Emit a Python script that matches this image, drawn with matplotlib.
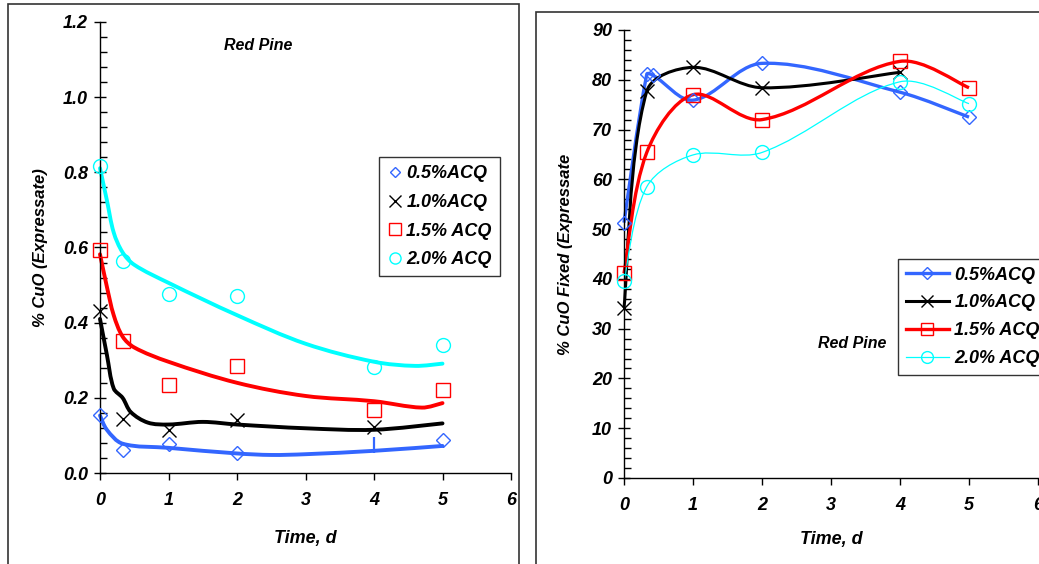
import numpy as np
import matplotlib
matplotlib.use("Agg")
import matplotlib.pyplot as plt
from matplotlib.path import Path
from matplotlib.patches import PathPatch, Rectangle
from matplotlib.lines import Line2D
from matplotlib.ticker import MultipleLocator, FormatStrFormatter

plt.rcParams['font.family'] = ['Liberation Sans', 'DejaVu Sans']
plt.rcParams['font.weight'] = 'bold'
plt.rcParams['font.style'] = 'italic'

# ---- data: left panel, % CuO in expressate ----
labels = ["0.5%ACQ", "1.0%ACQ", "1.5% ACQ", "2.0% ACQ"]
colors = ["#3366ff", "black", "red", "#00ffff"]

t_pts = [0, 0.33, 1, 2, 4, 5]
t_pts_10 = [0, 0.33, 1, 2, 4]
cuo_05 = [0.153, 0.062, 0.076, 0.052, 0.075, 0.088]
cuo_10 = [0.43, 0.143, 0.115, 0.141, 0.122]
cuo_15 = [0.594, 0.350, 0.234, 0.284, 0.167, 0.220]
cuo_20 = [0.818, 0.563, 0.477, 0.470, 0.282, 0.341]

# trend curves
fit_t_05 = [0, 0.1, 0.33, 1, 2, 2.5, 3, 4, 5]
fit_05 = [0.153, 0.115, 0.078, 0.067, 0.052, 0.048, 0.050, 0.059, 0.072]
fit_t_10 = [0, 0.1, 0.2, 0.33, 0.45, 0.7, 1, 1.5, 2, 3, 4, 5]
fit_10 = [0.41, 0.315, 0.225, 0.2, 0.162, 0.134, 0.129, 0.136, 0.129, 0.119, 0.115, 0.132]
fit_t_15 = [0, 0.1, 0.2, 0.33, 0.5, 1, 2, 3, 4, 4.7, 5]
fit_15 = [0.582, 0.496, 0.42, 0.363, 0.334, 0.296, 0.24, 0.205, 0.191, 0.174, 0.186]
fit_t_20 = [0, 0.1, 0.2, 0.33, 0.5, 1, 2, 3, 4, 4.6, 5]
fit_20 = [0.811, 0.726, 0.64, 0.587, 0.554, 0.506, 0.42, 0.344, 0.296, 0.285, 0.291]

# ---- data: right panel, % CuO fixed ----
t_05 = [0, 0.33, 0.42, 1, 2, 4, 5]
fix_05 = [51.3, 81.1, 80.9, 75.9, 83.3, 77.5, 72.5]
t_10 = [0, 0.33, 1, 2, 4]
fix_10 = [34.2, 77.7, 82.5, 78.4, 81.5]
t_15 = [0, 0.33, 1, 2, 4, 5]
fix_15 = [41.1, 65.4, 77.0, 72.0, 83.7, 78.4]
t_20 = [0, 0.33, 1, 2, 4, 5]
fix_20 = [39.5, 58.5, 64.9, 65.4, 79.6, 75.2]

FS = 13
W, H = 1039, 564


def smooth_path(xs, ys, sx, sy):
    # smoothed line through the points; control arms worked out in pixel space
    P = np.column_stack([np.asarray(xs, float) * sx, np.asarray(ys, float) * sy])
    n = len(P)
    arm_out = np.zeros_like(P)
    arm_in = np.zeros_like(P)
    for i in range(n):
        if i == 0:
            arm_out[i] = (P[1] - P[0]) / 6
        elif i == n - 1:
            arm_in[i] = (P[i] - P[i - 1]) / 6
        else:
            d0 = np.hypot(*(P[i] - P[i - 1]))
            d1 = np.hypot(*(P[i + 1] - P[i]))
            D = P[i + 1] - P[i - 1]
            arm_out[i] = D * d1 / (d0 + d1) / 3
            arm_in[i] = D * d0 / (d0 + d1) / 3
    verts = [P[0]]
    codes = [Path.MOVETO]
    for i in range(n - 1):
        verts += [P[i] + arm_out[i], P[i + 1] - arm_in[i + 1], P[i + 1]]
        codes += [Path.CURVE4] * 3
    verts = np.array(verts) / np.array([sx, sy])
    return Path(verts, codes)


def style_axes(ax):
    for s in ["top", "right"]:
        ax.spines[s].set_visible(False)
    for s in ["left", "bottom"]:
        ax.spines[s].set_linewidth(1.0)
    ax.tick_params(axis="y", which="major", direction="inout", length=9, width=1, labelsize=FS, pad=4)
    ax.tick_params(axis="y", which="minor", direction="in", length=5, width=1)
    ax.tick_params(axis="x", which="major", direction="out", length=5, width=1, labelsize=FS, pad=9)
    ax.xaxis.set_major_locator(MultipleLocator(1))
    for lab in ax.get_xticklabels() + ax.get_yticklabels():
        lab.set_fontweight("bold")
        lab.set_fontstyle("italic")


fig = plt.figure(figsize=(10.39, 5.64), dpi=100)

# outer frames around each panel
fig.patches.append(Rectangle((8 / W, -0.05), (519 - 8) / W, 1.05 - 4 / H,
                             transform=fig.transFigure, fill=False, edgecolor="#333333", lw=1.2))
fig.patches.append(Rectangle((536 / W, -0.05), 0.6, 1.05 - 12 / H,
                             transform=fig.transFigure, fill=False, edgecolor="#333333", lw=1.2))

legend_font = {"size": FS, "weight": "bold", "style": "italic"}

# ---------------- left panel ----------------
ax1 = fig.add_axes([100 / W, 1 - 473 / H, 411 / W, 451 / H])
ax1.set_xlim(0, 6)
ax1.set_ylim(0, 1.2)
ax1.yaxis.set_major_locator(MultipleLocator(0.2))
ax1.yaxis.set_minor_locator(MultipleLocator(0.04))
ax1.yaxis.set_major_formatter(FormatStrFormatter("%.1f"))
style_axes(ax1)
sx1, sy1 = 411 / 6, 451 / 1.2

fits = [(fit_t_05, fit_05), (fit_t_10, fit_10), (fit_t_15, fit_15), (fit_t_20, fit_20)]
for (fx, fy), c in zip(fits, colors):
    ax1.add_patch(PathPatch(smooth_path(fx, fy, sx1, sy1), fill=False, edgecolor=c, lw=2.8,
                            capstyle="round", clip_on=False, zorder=2))

h1 = ax1.plot(t_pts[:4] + t_pts[5:], cuo_05[:4] + cuo_05[5:], linestyle="none", marker="D", ms=7,
              mfc="none", mec=colors[0], mew=1.0, clip_on=False, zorder=3, label=labels[0])[0]
ax1.plot([t_pts[4]], [cuo_05[4]], linestyle="none", marker="|", ms=12, mec=colors[0], mew=1.6,
         clip_on=False, zorder=3)
h2 = ax1.plot(t_pts_10, cuo_10, linestyle="none", marker="x", ms=10, mec="black", mew=1.0,
              clip_on=False, zorder=3, label=labels[1])[0]
h3 = ax1.plot(t_pts, cuo_15, linestyle="none", marker="s", ms=10, mfc="none", mec="red", mew=1.0,
              clip_on=False, zorder=3, label=labels[2])[0]
h4 = ax1.plot(t_pts, cuo_20, linestyle="none", marker="o", ms=10, mfc="none", mec=colors[3], mew=1.0,
              clip_on=False, zorder=3, label=labels[3])[0]

leg1 = ax1.legend(handles=[h1, h2, h3, h4], loc="upper right", bbox_to_anchor=(0.973, 0.70),
                  borderaxespad=0, frameon=True, fancybox=False, edgecolor="black",
                  handlelength=0.8, handletextpad=0.25, labelspacing=0.64, borderpad=0.45,
                  markerscale=0.8, prop=legend_font)
leg1.get_frame().set_linewidth(1.0)

ax1.text(0.385, 0.948, "Red Pine", transform=ax1.transAxes, ha="center", va="center",
         fontsize=11.5, fontweight="bold", fontstyle="italic")
ax1.set_xlabel("Time, d", fontsize=FS, fontweight="bold", fontstyle="italic", labelpad=15)
ax1.set_ylabel("% CuO (Expressate)", fontsize=12, fontweight="bold", fontstyle="italic", labelpad=11)

# ---------------- right panel ----------------
ax2 = fig.add_axes([624 / W, 1 - 478 / H, 414 / W, 448 / H])
ax2.set_xlim(0, 6)
ax2.set_ylim(0, 90)
ax2.yaxis.set_major_locator(MultipleLocator(10))
ax2.yaxis.set_minor_locator(MultipleLocator(2))
style_axes(ax2)
sx2, sy2 = 414 / 6, 448 / 90

series = [
    (t_05, fix_05, colors[0], 2.4, "D", 7),
    (t_10, fix_10, "black", 2.2, "x", 10),
    (t_15, fix_15, "red", 2.4, "s", 10),
    (t_20, fix_20, colors[3], 0.9, "o", 10),
]
handles = []
for (tx, fy, c, lw, m, ms), lab in zip(series, labels):
    ax2.add_patch(PathPatch(smooth_path(tx, fy, sx2, sy2), fill=False, edgecolor=c, lw=lw,
                            clip_on=False, zorder=2))
    ax2.plot(tx, fy, linestyle="none", marker=m, ms=ms, mfc="none", mec=c, mew=1.0,
             clip_on=False, zorder=3)
    handles.append(Line2D([], [], color=c, lw=lw, marker=m, ms=ms * 0.85, mfc="none", mec=c,
                          mew=1.0, label=lab))

leg2 = ax2.legend(handles=handles, loc="upper left", bbox_to_anchor=(0.662, 0.489),
                  borderaxespad=0, frameon=True, fancybox=False, edgecolor="black",
                  handlelength=2.4, handletextpad=0.3, labelspacing=0.6, borderpad=0.42,
                  prop=legend_font)
leg2.get_frame().set_linewidth(1.0)

ax2.text(0.55, 0.30, "Red Pine", transform=ax2.transAxes, ha="center", va="center",
         fontsize=11.5, fontweight="bold", fontstyle="italic")
ax2.set_xlabel("Time, d", fontsize=FS, fontweight="bold", fontstyle="italic", labelpad=12)
ax2.set_ylabel("% CuO Fixed (Expressate", fontsize=12, fontweight="bold", fontstyle="italic",
               labelpad=14)

fig.savefig("out.png", dpi=100)
